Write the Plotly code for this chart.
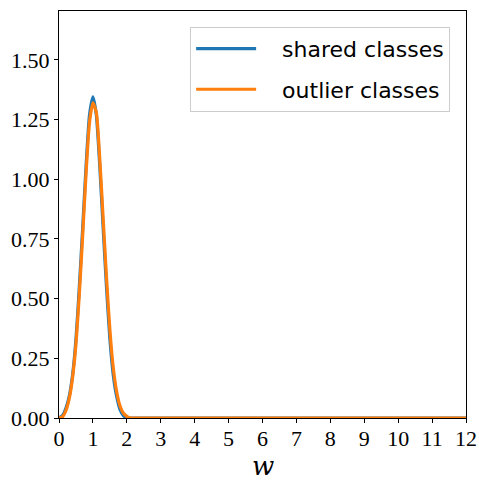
import plotly.graph_objects as go

x_shared = [0.0, 0.1, 0.2, 0.3, 0.4, 0.5, 0.6, 0.7, 0.8, 0.9, 1.0, 1.1, 1.2, 1.3, 1.4, 1.5, 1.6, 1.7, 1.8, 1.9, 2.0, 2.1, 12.0]
y_shared = [0.0, 0.01, 0.04, 0.09, 0.18, 0.33, 0.55, 0.80, 1.06, 1.27, 1.345, 1.27, 1.06, 0.80, 0.55, 0.33, 0.18, 0.09, 0.035, 0.01, 0.0, 0.0, 0.0]

x_outlier = [0.0, 0.1, 0.2, 0.3, 0.4, 0.5, 0.6, 0.7, 0.8, 0.9, 1.0, 1.1, 1.2, 1.3, 1.4, 1.5, 1.6, 1.7, 1.8, 1.9, 2.0, 2.1, 2.2, 12.0]
y_outlier = [0.0, 0.005, 0.03, 0.08, 0.17, 0.31, 0.52, 0.77, 1.03, 1.24, 1.32, 1.28, 1.09, 0.84, 0.59, 0.37, 0.21, 0.11, 0.05, 0.02, 0.007, 0.0, 0.0, 0.0]

x_ticks = list(range(0, 13))
y_ticks = [0.0, 0.25, 0.5, 0.75, 1.0, 1.25, 1.5]

pad = "\u00a0\u00a0\u00a0"
fig = go.Figure()
fig.add_trace(go.Scatter(x=x_shared, y=y_shared, mode="lines", name=pad + "shared classes", legendgroup="a",
                         line=dict(color="#1f77b4", width=3.2, shape="spline", smoothing=0.6)))
fig.add_trace(go.Scatter(x=x_outlier, y=y_outlier, mode="lines", name=pad + "outlier classes", legendgroup="b",
                         line=dict(color="#ff7f0e", width=3.2, shape="spline", smoothing=0.6)))

serif = "Liberation Serif"
fig.update_layout(
    width=479, height=482,
    margin=dict(l=59, r=13, t=11, b=64),
    paper_bgcolor="white", plot_bgcolor="white",
    showlegend=True,
    legend=dict(x=0.961, y=0.961, xanchor="right", yanchor="top",
                bordercolor="#cccccc", borderwidth=1, bgcolor="rgba(255,255,255,0.8)",
                font=dict(family="DejaVu Sans", size=22, color="black"),
                itemwidth=60, tracegroupgap=9),
    xaxis=dict(range=[0, 12], tickvals=x_ticks, ticks="outside", ticklen=4, tickcolor="black",
               showline=True, linecolor="black", linewidth=1, mirror=True, showgrid=False, zeroline=False,
               automargin=False, ticklabelstandoff=-3,
               tickfont=dict(family=serif, size=22, color="black")),
    yaxis=dict(range=[0, 1.705], tickvals=y_ticks, tickformat=".2f", ticks="outside", ticklen=4, tickcolor="black",
               showline=True, linecolor="black", linewidth=1, mirror=True, showgrid=False, zeroline=False,
               automargin=False,
               tickfont=dict(family=serif, size=22, color="black")),
    annotations=[dict(text="<i>w</i>", x=0.5, y=0, xref="paper", yref="paper", yshift=-64,
                      xanchor="center", yanchor="bottom", showarrow=False, borderpad=0,
                      font=dict(family="DejaVu Serif", size=26, color="black"))],
)

fig.write_html("out.html")
